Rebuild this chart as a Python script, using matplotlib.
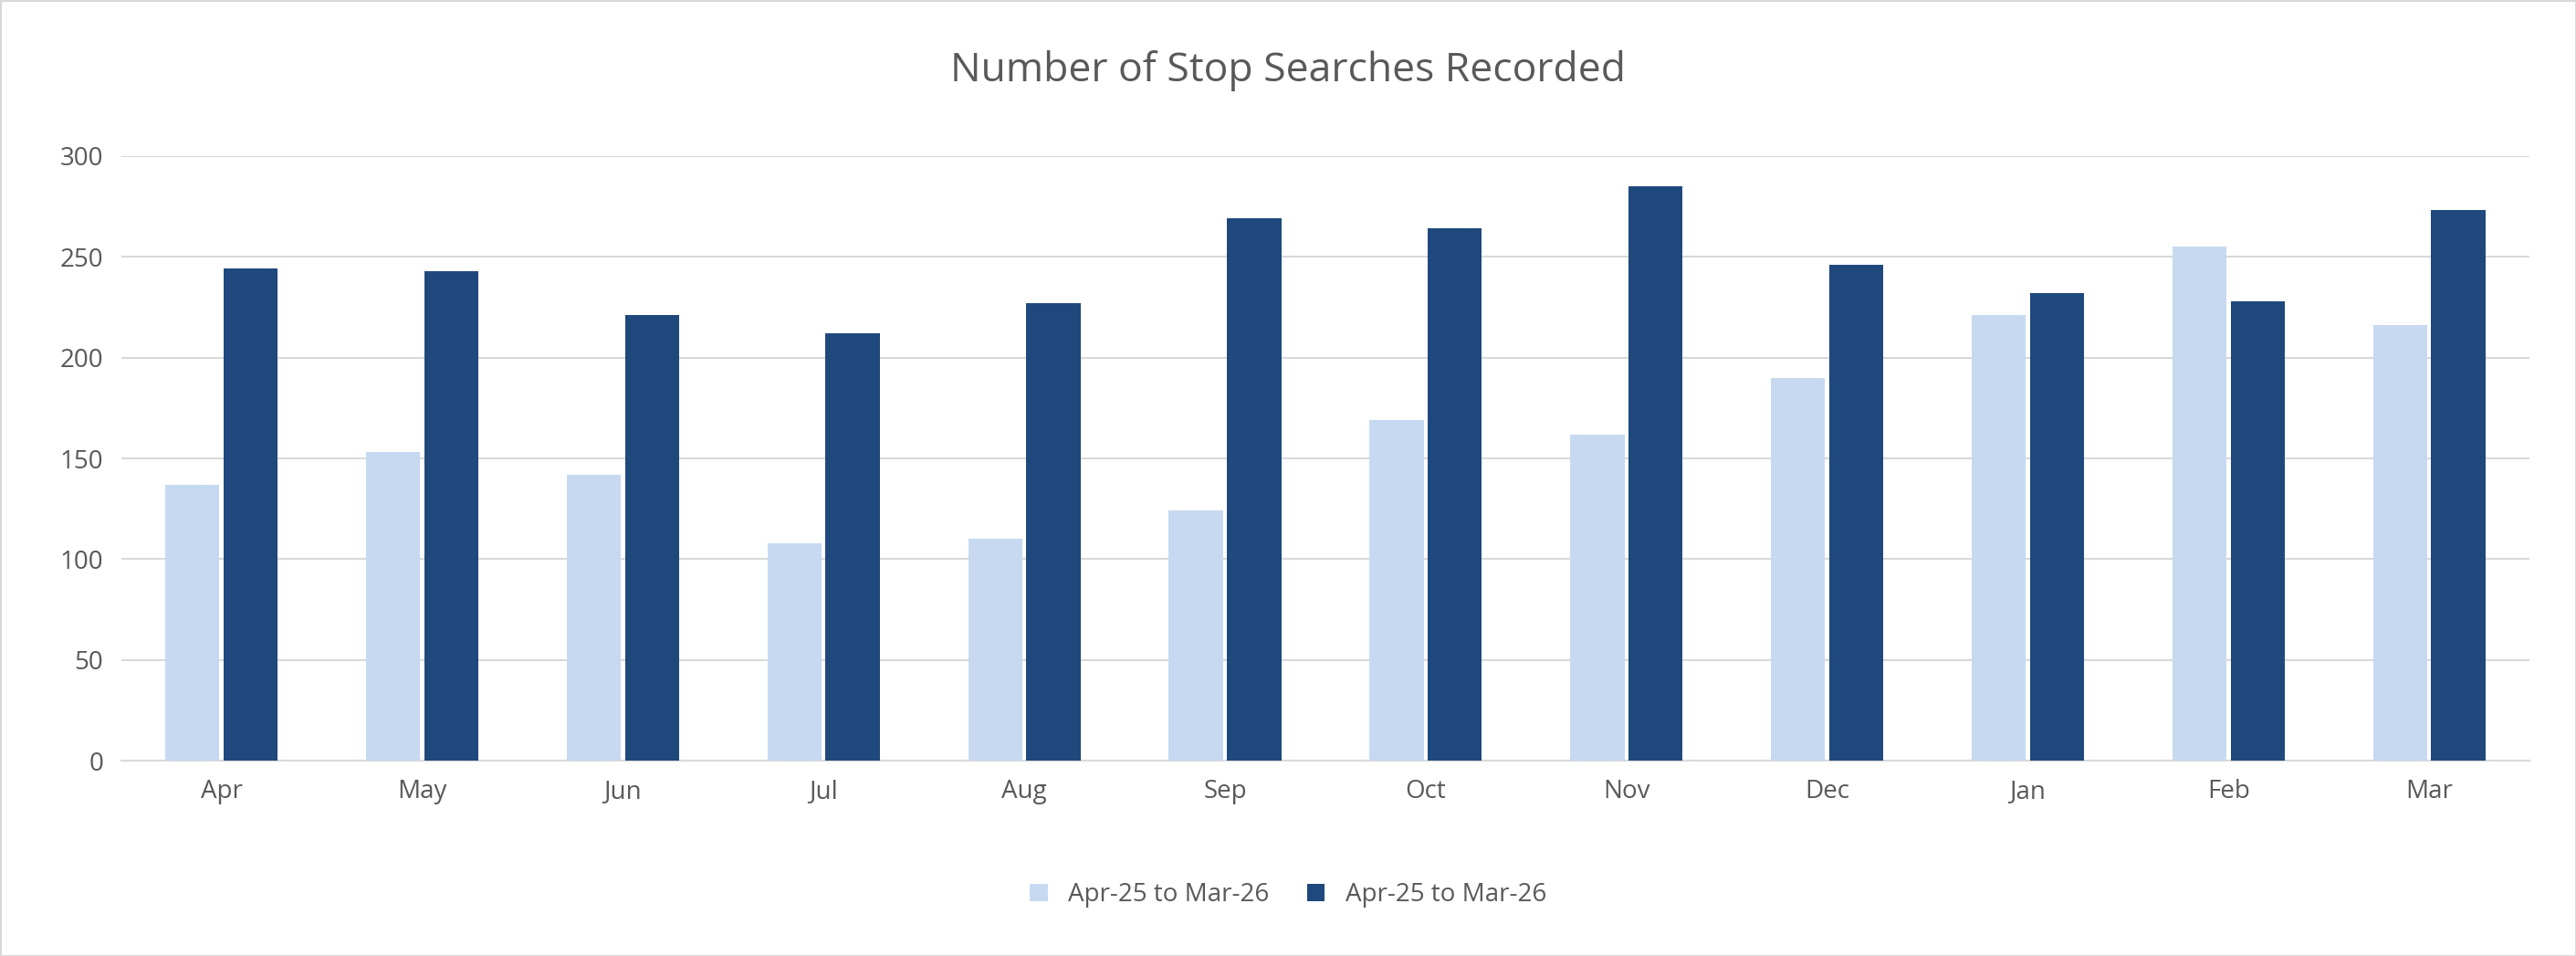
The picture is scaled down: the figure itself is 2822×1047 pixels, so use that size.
import matplotlib
matplotlib.use("Agg")
import matplotlib.pyplot as plt
import numpy as np

months = ["Apr","May","Jun","Jul","Aug","Sep","Oct","Nov","Dec","Jan","Feb","Mar"]
series1 = [137,153,142,108,110,124,169,162,190,221,255,216]
series2 = [244,243,221,212,227,269,264,285,246,232,228,273]
labels = ["Apr-25 to Mar-26","Apr-25 to Mar-26"]
yticks = [0,50,100,150,200,250,300]

plt.rcParams['font.family'] = ['Open Sans','DejaVu Sans']
fig = plt.figure(figsize=(28.22,10.47), dpi=100)
fig.patch.set_edgecolor('#D9D9D9'); fig.patch.set_linewidth(2)
ax = fig.add_axes([0.047,0.204,0.935,0.633])
x = np.arange(len(months))
w = 0.27
ax.bar(x-0.145, series1, w, color='#C6D9F1', label=labels[0], zorder=3)
ax.bar(x+0.145, series2, w, color='#1F497D', label=labels[1], zorder=3)
ax.set_xlim(-0.5, len(months)-0.5)
ax.set_ylim(0,300)
ax.set_yticks(yticks)
ax.yaxis.grid(True, color='#D9D9D9', linewidth=1.5, zorder=0)
for s in ['top','right','left']:
    ax.spines[s].set_visible(False)
ax.spines['bottom'].set_color('#D9D9D9'); ax.spines['bottom'].set_linewidth(1.5)
ax.tick_params(axis='both', length=0, labelsize=20, labelcolor='#595959', pad=14)
ax.set_xticks(x); ax.set_xticklabels(months)
fig.text(0.5,0.926,"Number of Stop Searches Recorded", ha='center', va='center', fontsize=32, color='#595959')
fig.legend(loc='center', bbox_to_anchor=(0.5,0.064), ncol=2, frameon=False, fontsize=20,
           labelcolor='#595959', handlelength=0.7, handleheight=0.7, columnspacing=1.5)
fig.savefig("out.png", dpi=100, edgecolor=fig.get_edgecolor())
